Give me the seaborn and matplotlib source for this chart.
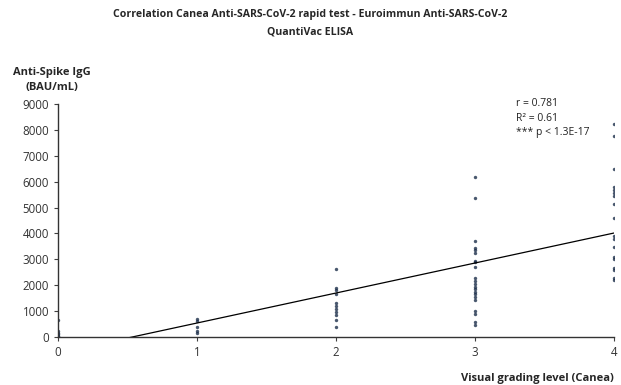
import numpy as np
import pandas as pd
import matplotlib
matplotlib.use("Agg")
import matplotlib.pyplot as plt
import seaborn as sns

grade_0 = [650, 250, 150, 100, 50, 20]
grade_1 = [700, 600, 400, 250, 150]
grade_2 = [2630, 1890, 1810, 1660, 1310, 1200, 1080, 960, 850, 660, 390]
grade_3 = [6180, 5350, 3700, 3440, 3360, 3240, 2950, 2900, 2700, 2280, 2150,
           2050, 1950, 1850, 1750, 1650, 1550, 1430, 1000, 900, 580, 480]
grade_4 = [8220, 7760, 6490, 5790, 5680, 5560, 5440, 5130, 4600, 3900, 3780,
           3470, 3090, 3010, 2660, 2590, 2280, 2200]
grades = [0, 1, 2, 3, 4]
y_ticks = [0, 1000, 2000, 3000, 4000, 5000, 6000, 7000, 8000, 9000]
stats_lines = ["r = 0.781", "R² = 0.61", "*** p < 1.3E-17"]

rows = []
for g, vals in zip(grades, [grade_0, grade_1, grade_2, grade_3, grade_4]):
    for v in vals:
        rows.append({"grade": g, "igg": v})
df = pd.DataFrame(rows)

sns.set_theme(style="white")
plt.rcParams['font.family'] = ['Open Sans', 'DejaVu Sans']

fig = plt.figure(figsize=(6.21, 3.85), dpi=100)
ax = fig.add_axes([58/621, 1-337/385, 556/621, 233/385])

sns.regplot(data=df, x="grade", y="igg", ax=ax, ci=None, truncate=True,
            scatter_kws=dict(s=6, color="#1c2e4a", linewidths=0),
            line_kws=dict(color="black", linewidth=0.9))

ax.set_xlim(0, 4)
ax.set_ylim(0, 9000)
ax.set_xticks(grades)
ax.set_yticks(y_ticks)
ax.tick_params(axis='both', labelsize=8.3, colors="#404040", length=3,
               direction='out', width=0.8, left=True, bottom=True)
for lbl in ax.get_xticklabels() + ax.get_yticklabels():
    lbl.set_color("#333333")
ax.set_xlabel("")
ax.set_ylabel("")
sns.despine(ax=ax)
for sp in ["left", "bottom"]:
    ax.spines[sp].set_color("#333333")
    ax.spines[sp].set_linewidth(1.0)

fig.text(0.5, 1-23/385, "Correlation Canea Anti-SARS-CoV-2 rapid test - Euroimmun Anti-SARS-CoV-2\nQuantiVac ELISA",
         ha="center", va="center", fontsize=7.6, fontweight="bold", linespacing=1.75)
fig.text(52/621, 1-80/385, "Anti-Spike IgG\n(BAU/mL)", ha="center", va="center",
         fontsize=8, fontweight="bold", linespacing=1.45)
fig.text(614/621, 1-378/385, "Visual grading level (Canea)", ha="right", va="center",
         fontsize=8, fontweight="bold")
for i, s in enumerate(stats_lines):
    fig.text(516/621, 1-(104 + 14.5*i)/385, s, ha="left", va="center", fontsize=7.5,
             color="#222222")

fig.savefig("out.png", dpi=100)
